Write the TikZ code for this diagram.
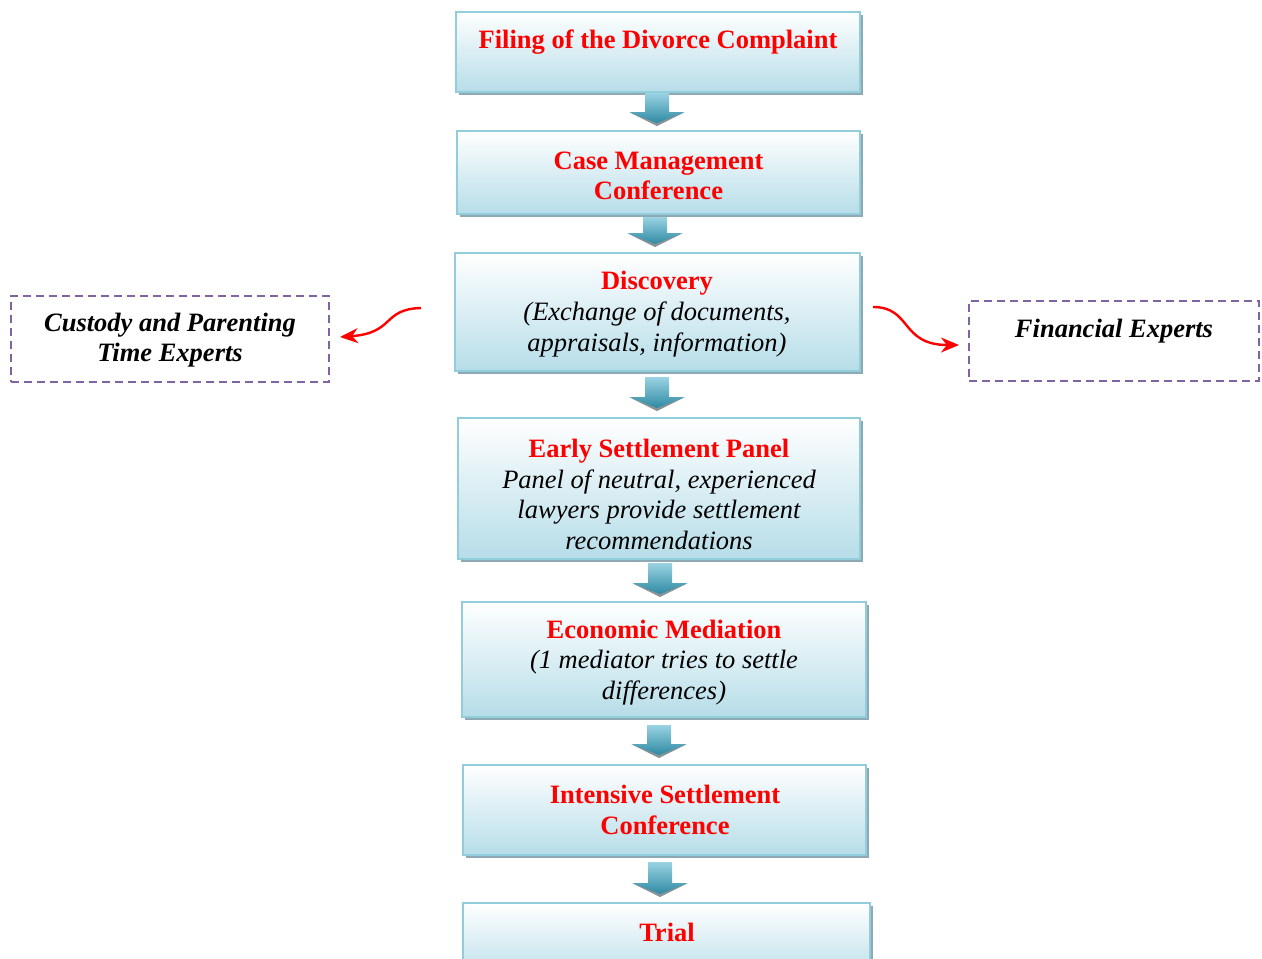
\documentclass[tikz,border=0pt]{standalone}
\usepackage{fontspec}
\setmainfont{Liberation Serif}
\usetikzlibrary{arrows.meta,shadows}
\definecolor{boxline}{HTML}{92CDDC}
\definecolor{boxfill}{HTML}{B6DDE8}
\definecolor{shadowc}{HTML}{8EA9B3}
\definecolor{dashc}{HTML}{8064A2}
\definecolor{titlered}{HTML}{FF0000}
\definecolor{arrtop}{HTML}{9AD3E2}
\definecolor{arrbot}{HTML}{2E8AA3}
\tikzset{
  stagebox/.style={draw=boxline, line width=2.2pt, top color=white, bottom color=boxfill,
    drop shadow={shadow xshift=3pt, shadow yshift=-3pt, fill=shadowc, opacity=1},
    inner sep=0pt},
  stagetext/.style={align=center, font=\fontsize{26.5}{30.7}\selectfont, inner sep=0pt},
  expertbox/.style={draw=dashc, line width=2.2pt, dash pattern=on 8pt off 5pt, inner sep=0pt},
  experttext/.style={align=center, font=\fontsize{26.5}{30}\selectfont\bfseries\itshape, inner sep=0pt},
  redcurve/.style={draw=red, line width=2.4pt, -{Stealth[length=18pt,width=15pt]}},
}
\newcommand{\blockarrow}[3]{% x, ytop, ybottom
  \fill[shadowc!60!black, opacity=0.7] (#1-26,#3-12) -- (#1+26,#3-12) -- (#1,#3+1) -- cycle;
  \shade[top color=arrtop, bottom color=arrbot] (#1-12,#2) -- (#1+12,#2) -- (#1+12,#3-13) -- (#1+28,#3-13) -- (#1,#3-2) -- (#1-28,#3-13) -- (#1-12,#3-13) -- cycle;
}
\begin{document}
\begin{tikzpicture}[x=1pt,y=-1pt]
\useasboundingbox (0,0) rectangle (1262,959);

% stage boxes
\node[stagebox, minimum width=404pt, minimum height=80pt] (b1) at (658,52) {};
\node[stagebox, minimum width=403pt, minimum height=83pt] (b2) at (658.5,172.5) {};
\node[stagebox, minimum width=405pt, minimum height=118pt] (b3) at (657.5,312) {};
\node[stagebox, minimum width=402pt, minimum height=141pt] (b4) at (659,488.5) {};
\node[stagebox, minimum width=404pt, minimum height=115pt] (b5) at (664,659.5) {};
\node[stagebox, minimum width=403pt, minimum height=90pt] (b6) at (664.5,810) {};
\node[stagebox, minimum width=407pt, minimum height=80pt] (b7) at (666.5,943) {};

% texts
\node[stagetext] (t1) at (658,42) {\textcolor{titlered}{\bfseries Filing of the Divorce Complaint}};
\node[stagetext] (t2) at (658.5,176) {\textcolor{titlered}{\bfseries Case Management}\\\textcolor{titlered}{\bfseries Conference}};
\node[stagetext] (t3) at (657,314) {\textcolor{titlered}{\bfseries Discovery}\\\itshape (Exchange of documents,\\\itshape appraisals, information)};
\node[stagetext] (t4) at (659,494.5) {\textcolor{titlered}{\bfseries Early Settlement Panel}\\\itshape Panel of neutral, experienced\\\itshape lawyers provide settlement\\\itshape recommendations};
\node[stagetext] (t5) at (664,662.5) {\textcolor{titlered}{\bfseries Economic Mediation}\\\itshape (1 mediator tries to settle\\\itshape differences)};
\node[stagetext] (t6) at (665,810) {\textcolor{titlered}{\bfseries Intensive Settlement}\\\textcolor{titlered}{\bfseries Conference}};
\node[stagetext] (t7) at (667,932) {\textcolor{titlered}{\bfseries Trial}};

% block arrows
\blockarrow{657}{93}{125}
\blockarrow{655}{217}{246}
\blockarrow{657}{377}{410}
\blockarrow{660}{563}{596}
\blockarrow{659}{725}{757}
\blockarrow{660}{862}{896}

% expert boxes
\node[expertbox, minimum width=318pt, minimum height=86pt] (e1) at (170,339) {};
\node[experttext] (et1) at (170,340) {Custody and Parenting\\Time Experts};
\node[expertbox, minimum width=290pt, minimum height=80pt] (e2) at (1114,341) {};
\node[experttext] (et2) at (1114,331) {Financial Experts};

% red curved arrows
\coordinate (l0) at (421,308);
\coordinate (l1) at (340,337);
\coordinate (r0) at (873,307);
\coordinate (r1) at (959,345);
\draw[redcurve] (l0) .. controls (382,309) and (395,333) .. (l1);
\draw[redcurve] (r0) .. controls (912,307) and (900,345) .. (r1);
\end{tikzpicture}
\end{document}
